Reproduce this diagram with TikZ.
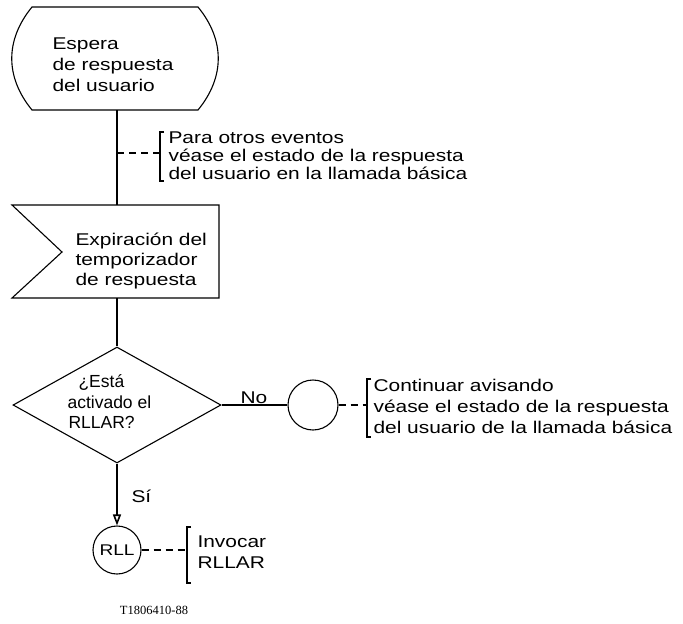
\documentclass[tikz,border=0pt]{standalone}
\usepackage{fontspec}
\setmainfont{Liberation Sans}[FakeStretch=1.23]
\newfontfamily\narrowfont{Liberation Sans}
\newfontfamily\codefont{Liberation Serif}
\usetikzlibrary{shapes.geometric,arrows.meta}
\begin{document}
\begin{tikzpicture}[x=1pt,y=-1pt,line width=1.1pt,
  txt/.style={anchor=base west,inner sep=0pt,font=\fontsize{17}{20}\selectfont},
  dtxt/.style={anchor=base west,inner sep=0pt,font=\narrowfont\fontsize{17.5}{20}\selectfont},
  cmt/.style={dash pattern=on 7pt off 5pt},
  brk/.style={line width=1.7pt},
  circ/.style={draw,circle,inner sep=0pt},
  dec/.style={draw,diamond,inner sep=0pt,minimum width=208pt,minimum height=116pt}]
\useasboundingbox (0,0) rectangle (683,624);
% state
\draw (32,7) -- (198,7) .. controls (225,40) and (225,77) .. (198,110) -- (32,110) .. controls (5,77) and (5,40) .. (32,7) -- cycle;
\node[txt] (s1) at (52,49) {Espera};
\node[txt] (s2) at (52,70) {de respuesta};
\node[txt] (s3) at (52,91) {del usuario};
\coordinate (stB) at (117,110);
\coordinate (sgT) at (117,205);
\draw (stB) -- (sgT);
% comment 1
\coordinate (c1) at (117,153);
\coordinate (b1) at (160,153);
\draw[cmt] (c1) -- (b1);
\draw[brk] (164,132) -- (160,132) -- (160,181) -- (164,181);
\node[txt] (k1) at (168,143) {Para otros eventos};
\node[txt] (k2) at (168,161) {véase el estado de la respuesta};
\node[txt] (k3) at (168,179) {del usuario en la llamada básica};
% signal
\draw (12,205) -- (219,205) -- (219,298) -- (12,298) -- (62,252) -- cycle;
\node[txt] (g1) at (75,245) {Expiración del};
\node[txt] (g2) at (75,265) {temporizador};
\node[txt] (g3) at (75,285) {de respuesta};
\coordinate (sgB) at (117,298);
% decision
\node[dec] (d) at (117,405) {};
\draw (sgB) -- (d.north);
\node[dtxt] (d1) at (78,387) {¿Está};
\node[dtxt] (d2) at (67,408) {activado el};
\node[dtxt] (d3) at (68,428) {RLLAR?};
% connector
\node[circ,minimum size=50pt] (con) at (313,405) {};
\draw (d.east) -- (con.west);
\node[txt] (no) at (240,403) {No};
\coordinate (b2) at (367,405);
\draw[cmt] (con.east) -- (b2);
\draw[brk] (371,379) -- (367,379) -- (367,437) -- (371,437);
\node[txt] (m1) at (373,391) {Continuar avisando};
\node[txt] (m2) at (373,412) {véase el estado de la respuesta};
\node[txt] (m3) at (373,433) {del usuario de la llamada básica};
% RLL
\node[circ,minimum size=48pt,font=\fontsize{15.5}{17}\selectfont] (rll) at (117,550) {RLL};
\draw[-{Triangle[open,length=11pt,width=8pt,line width=1.6pt]}] (d.south) -- (rll.north);
\node[txt] (si) at (131,502) {Sí};
\coordinate (b3) at (187,550);
\draw[cmt] (rll.east) -- (b3);
\draw[brk] (191,527) -- (187,527) -- (187,583) -- (191,583);
\node[txt] (r1) at (197,547) {Invocar};
\node[txt] (r2) at (197,568) {RLLAR};
\node[inner sep=0pt,anchor=base,font=\codefont\fontsize{12.5}{14}\selectfont] (code) at (154,614) {T1806410-88};
\end{tikzpicture}
\end{document}
